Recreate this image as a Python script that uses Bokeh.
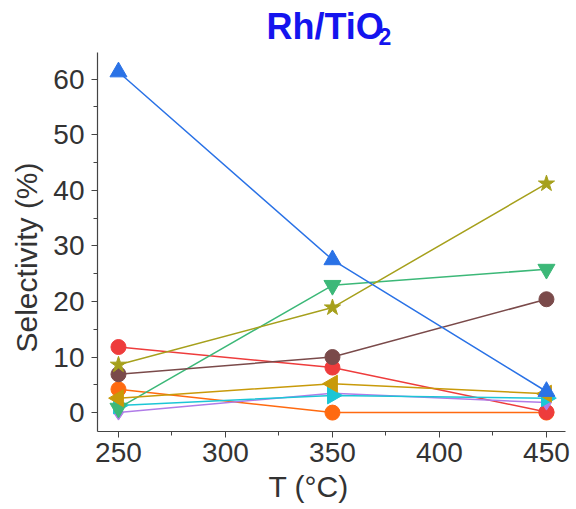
from bokeh.plotting import figure
from bokeh.embed import file_html
from bokeh.resources import INLINE
from bokeh.models import Range1d, FixedTicker, Title
from bokeh.layouts import column
from bokeh.core.properties import value
import math

temps = [250, 350, 450]
blue_tri = [61.3, 27.5, 3.8]
olive_star = [8.6, 18.9, 41.2]
green_inv = [0.8, 22.9, 25.8]
brown_circ = [6.9, 10.0, 20.4]
red_circ = [11.8, 8.1, 0.1]
orange_circ = [4.2, 0.0, 0.0]
gold_left = [2.6, 5.2, 3.4]
cyan_right = [1.3, 3.1, 2.6]
purple_dia = [0.0, 3.5, 1.8]

title_main = ["Rh/TiO"]
title_sub = ["2"]
x_label = "T (\u00b0C)"
y_label = "Selectivity (%)"

series = [
    (orange_circ, "#ff6a10", "circle", 0.0),
    (red_circ, "#ee3c3c", "circle", 0.0),
    (purple_dia, "#b07ce8", "diamond", 0.0),
    (cyan_right, "#1cc6d6", "triangle", -math.pi / 2),
    (green_inv, "#3cb878", "inverted_triangle", 0.0),
    (gold_left, "#c89a0a", "triangle", math.pi / 2),
    (brown_circ, "#7a4a4a", "circle", 0.0),
    (olive_star, "#a6a01c", "star", 0.0),
    (blue_tri, "#2a72e6", "triangle", 0.0),
]

W = 576
TH = 50
H = 509 - TH
FL, FR = 97, 565

# ---- title strip (its frame aligns with the main frame: x in page pixels) ----
tp = figure(width=W, height=TH, output_backend="svg", toolbar_location=None,
            x_range=Range1d(FL, FR), y_range=Range1d(TH, 0),
            min_border=0, x_axis_type=None, y_axis_type=None)
tp.grid.visible = False
tp.outline_line_color = None
tp.text(x=[266], y=[25.5], text=title_main, text_align="left", text_baseline="middle",
        text_font=value("Liberation Sans"), text_font_style="bold", text_font_size="36px",
        text_color="#1414ee")
tp.text(x=[378], y=[36], text=title_sub, text_align="left", text_baseline="middle",
        text_font=value("Liberation Sans"), text_font_style="bold", text_font_size="23px",
        text_color="#1414ee")

# ---- main plot ----
p = figure(width=W, height=H, output_backend="svg", toolbar_location=None,
           x_range=Range1d(240.2, 458.9), y_range=Range1d(-3.4, 64.8),
           min_border_left=FL, min_border_right=W - FR, min_border_top=52 - TH, min_border_bottom=78)

for ys, col, mk, ang in series:
    p.line(temps, ys, line_color=col, line_width=1.5)
    size = 17 if mk == "star" else 15
    if mk in ("triangle", "inverted_triangle"):
        size = 17
    p.scatter(temps, ys, marker=mk, size=size, angle=ang, fill_color=col, line_color=col, line_width=1)

p.grid.visible = False
p.outline_line_color = None
for ax in (p.xaxis[0], p.yaxis[0]):
    ax.axis_line_color = "#444444"
    ax.axis_line_width = 1.2
    ax.major_tick_line_color = "#444444"
    ax.minor_tick_line_color = "#444444"
    ax.major_tick_out = 6
    ax.major_tick_in = 0
    ax.minor_tick_out = 4
    ax.minor_tick_in = 0
    ax.major_label_text_font = "Liberation Sans"
    ax.major_label_text_font_size = "28px"
    ax.major_label_text_color = "#333333"

p.xaxis.major_label_standoff = 5
p.yaxis.major_label_standoff = 7
p.xaxis.ticker = FixedTicker(ticks=[250, 300, 350, 400, 450], minor_ticks=[275, 325, 375, 425])
p.yaxis.ticker = FixedTicker(ticks=[0, 10, 20, 30, 40, 50, 60], minor_ticks=[5, 15, 25, 35, 45, 55, 65])

lab_kw = dict(text_font="Liberation Sans", text_color="#333333", text_font_size="30px",
              text_font_style="normal")
p.add_layout(Title(text=x_label, align="left", offset=171, standoff=7, **lab_kw), "below")
p.add_layout(Title(text=y_label, align="left", offset=79, standoff=15, **lab_kw), "left")

layout = column(tp, p, spacing=0)
open("out.html", "w").write(file_html(layout, INLINE))
